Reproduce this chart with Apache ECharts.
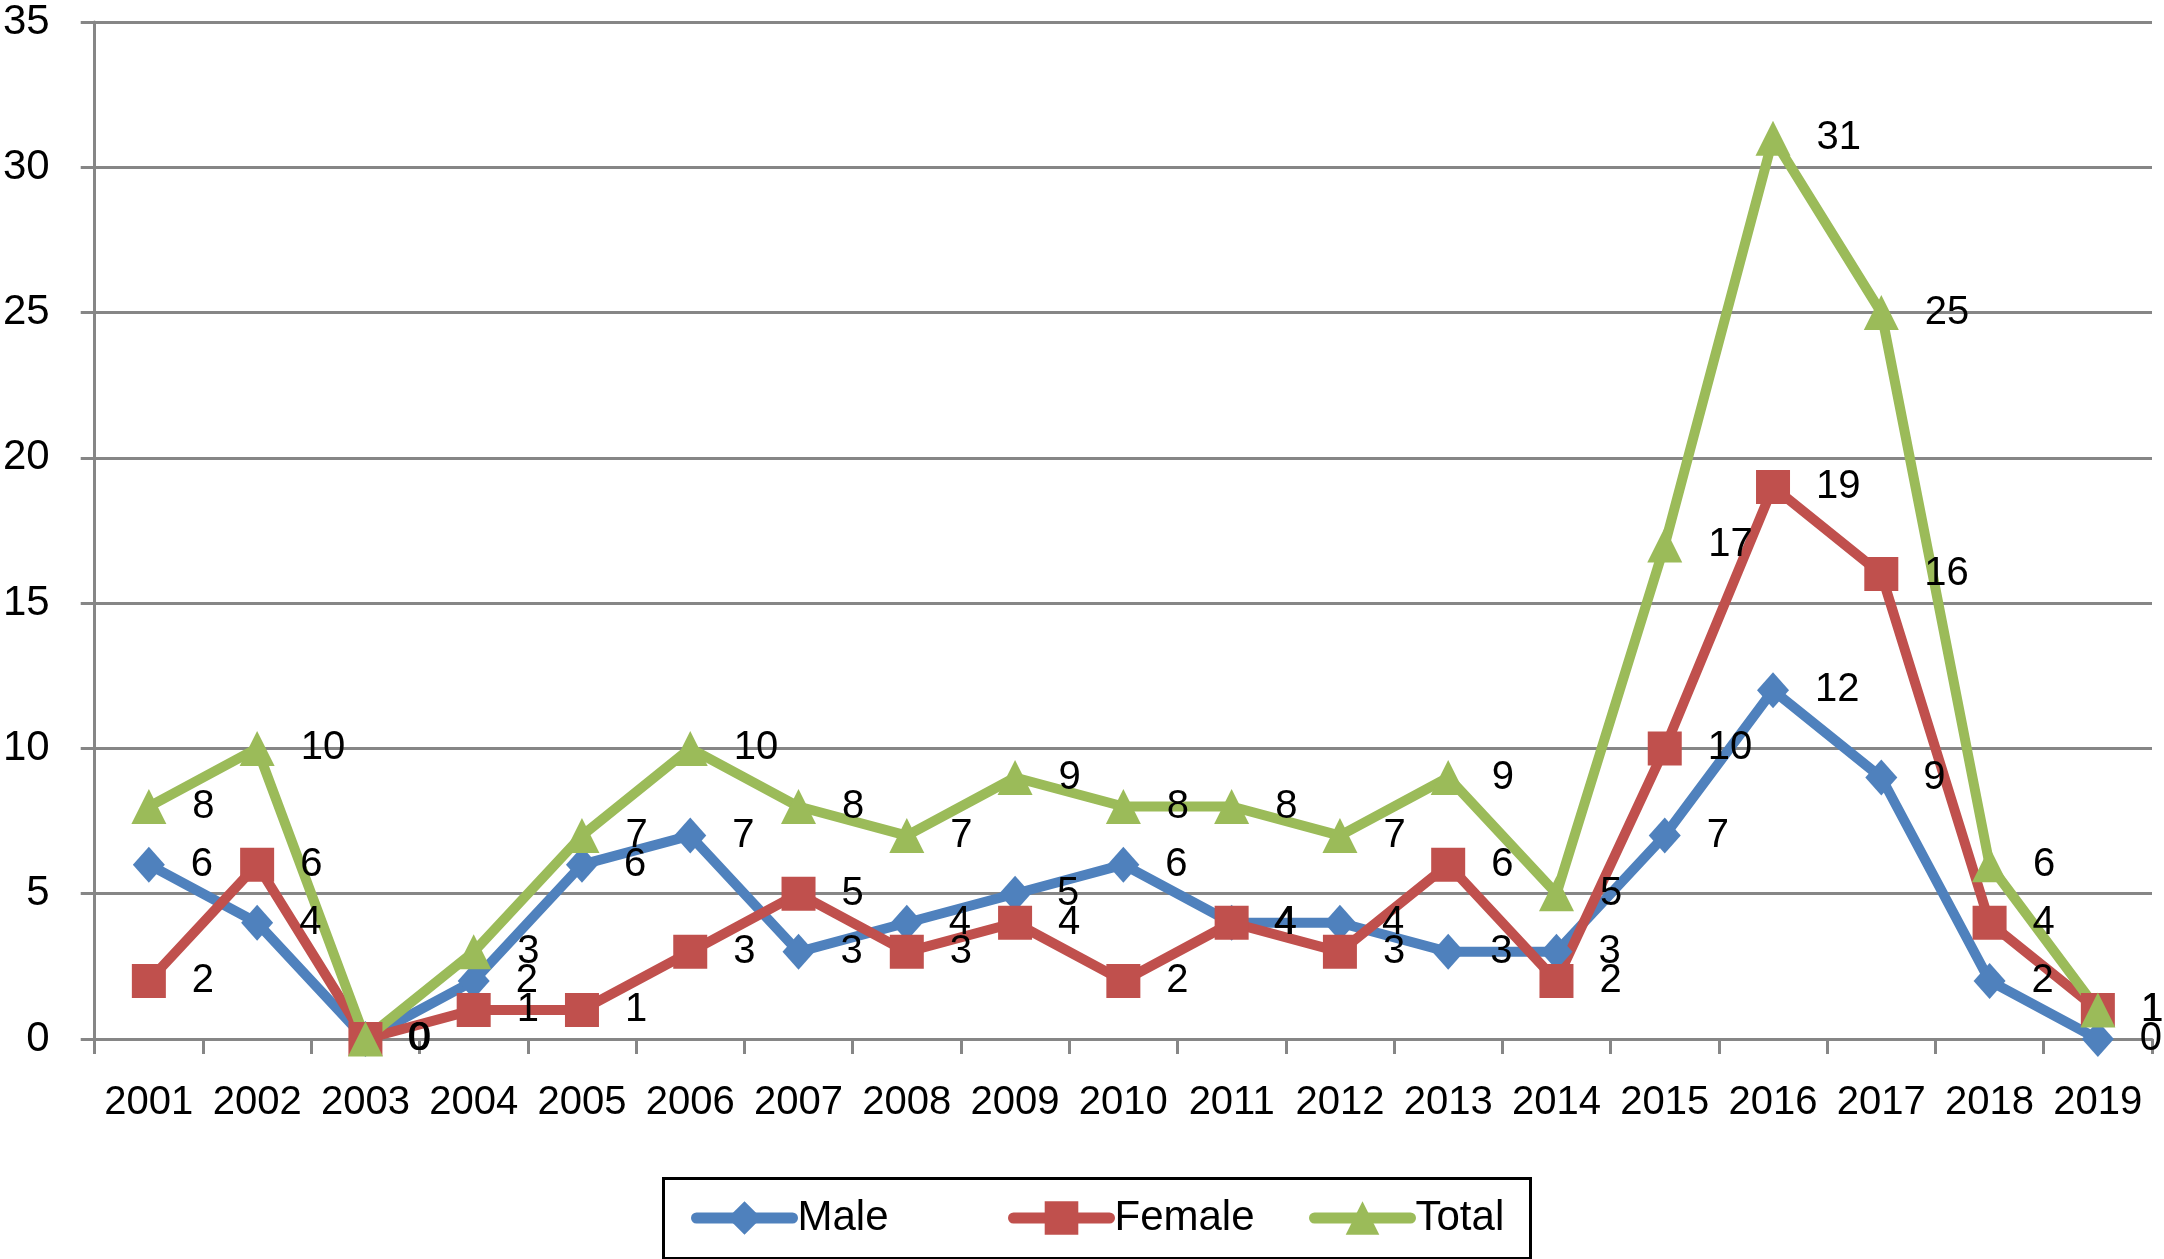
<!DOCTYPE html>
<html>
<head>
<meta charset="utf-8">
<script src="https://cdn.jsdelivr.net/npm/echarts@6/dist/echarts.min.js"></script>
<style>
html,body{margin:0;padding:0;background:#fff;}
#c{width:2164px;height:1259px;}
</style>
</head>
<body>
<div id="c"></div>
<script>
const categories = ['2001','2002','2003','2004','2005','2006','2007','2008','2009','2010','2011','2012','2013','2014','2015','2016','2017','2018','2019'];
const male   = [6,4,0,2,6,7,3,4,5,6,4,4,3,3,7,12,9,2,0];
const female = [2,6,0,1,1,3,5,3,4,2,4,3,6,2,10,19,16,4,1];
const total  = [8,10,0,3,7,10,8,7,9,8,8,7,9,5,17,31,25,6,1];
const yTicks = {min:0, max:35, interval:5};

const FONT = 'Liberation Sans, Arial, sans-serif';
const gridColor = '#868686';

function mkSeries(name, data, color, symbol, size){
  return {
    name, type:'line', data,
    symbol, symbolSize:size,
    lineStyle:{color, width:10, join:'round', cap:'round'},
    itemStyle:{color},
    label:{show:true, position:'right', distance:26, color:'#000', fontSize:40, fontFamily:FONT},
    emphasis:{disabled:true},
    animation:false
  };
}

function mkLegend(name, left){
  return {
    data:[name], left, top:1192, itemWidth:96, itemHeight:42, itemGap:0,
    textStyle:{fontSize:42, fontFamily:FONT, color:'#000'},
    lineStyle:{width:11, cap:'round'},
    selectedMode:false
  };
}

const chart = echarts.init(document.getElementById('c'), null, {renderer:'canvas'});
chart.setOption({
  backgroundColor:'#fff',
  animation:false,
  grid:{left:89, right:12, top:22, bottom:220, containLabel:false},
  xAxis:{
    type:'category', data:categories, boundaryGap:true,
    axisLine:{lineStyle:{color:gridColor, width:3}},
    axisTick:{show:true, length:15, lineStyle:{color:gridColor, width:3}},
    axisLabel:{color:'#000', fontSize:40, fontFamily:FONT, margin:44, interval:0},
    splitLine:{show:false}
  },
  yAxis:{
    type:'value', min:yTicks.min, max:yTicks.max, interval:yTicks.interval,
    axisLine:{show:true, lineStyle:{color:gridColor, width:3}},
    axisTick:{show:true, length:14, lineStyle:{color:gridColor, width:3}},
    axisLabel:{color:'#000', fontSize:42, fontFamily:FONT, margin:45},
    splitLine:{show:true, lineStyle:{color:gridColor, width:3}}
  },
  legend:[
    mkLegend('Male', 686),
    mkLegend('Female', 1003),
    mkLegend('Total', 1304)
  ],
  graphic:[{
    type:'rect', left:661, top:1176, silent:true,
    shape:{width:867, height:80},
    style:{fill:'none', stroke:'#000', lineWidth:3}
  }],
  series:[
    mkSeries('Male', male, '#4F81BD', 'diamond', [32,36]),
    mkSeries('Female', female, '#C0504D', 'rect', 34),
    mkSeries('Total', total, '#9BBB59', 'triangle', 35)
  ]
});
</script>
</body>
</html>
